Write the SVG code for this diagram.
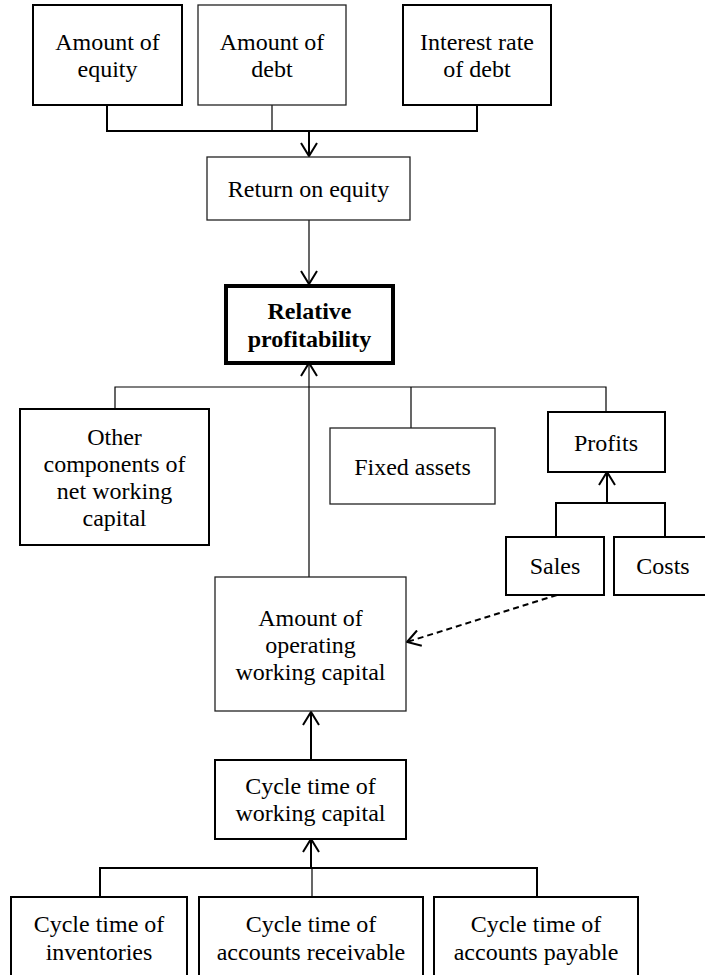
<svg xmlns="http://www.w3.org/2000/svg" width="705" height="975" viewBox="0 0 705 975">
<defs>
<style>
.box{fill:#fff;stroke:#000;stroke-width:2}
.thin{fill:#fff;stroke:#222;stroke-width:1.3}
.bold{fill:#fff;stroke:#000;stroke-width:4}
text{font-family:"Liberation Serif","Times New Roman",serif;font-size:24px;fill:#000;text-anchor:middle}
.b{font-weight:bold}
.ln{fill:none;stroke:#000;stroke-width:2}
.tl{fill:none;stroke:#000;stroke-width:1.2}
.dash{fill:none;stroke:#000;stroke-width:2;stroke-dasharray:6 4}
</style>
<marker id="arr" viewBox="0 0 16 18" refX="14" refY="9" markerWidth="16" markerHeight="18" markerUnits="userSpaceOnUse" orient="auto">
<path d="M1,1 L14,9 L1,17" fill="none" stroke="#000" stroke-width="2"/>
</marker>
</defs>
<g id="connectors">
<path class="ln" d="M107,105 V131 H477 V105"/>
<path class="tl" d="M272,105 V131"/>
<path class="ln" d="M309,131 V156" marker-end="url(#arr)"/>
<path class="tl" d="M309,220 V284" marker-end="url(#arr)"/>
<path class="tl" d="M115,409 V387 H606 V412"/>
<path class="tl" d="M411,387 V428"/>
<path class="tl" d="M309,577 V363" marker-end="url(#arr)"/>
<path class="ln" d="M556,537 V503 H665 V537"/>
<path class="ln" d="M607,503 V472" marker-end="url(#arr)"/>
<path class="dash" d="M557,595 L407,642" marker-end="url(#arr)"/>
<path class="ln" d="M311,760 V712" marker-end="url(#arr)"/>
<path class="ln" d="M100,897 V868 H537 V897"/>
<path class="tl" d="M312,897 V868"/>
<path class="ln" d="M311,868 V839" marker-end="url(#arr)"/>
</g>
<g id="amount-equity"><rect class="box" x="33" y="5" width="149" height="100"/><text x="107.5" y="50">Amount of</text><text x="107.5" y="77">equity</text></g>
<g id="amount-debt"><rect class="thin" x="198" y="5" width="148" height="100"/><text x="272" y="50">Amount of</text><text x="272" y="77">debt</text></g>
<g id="interest-rate"><rect class="box" x="403" y="5" width="148" height="100"/><text x="477" y="50">Interest rate</text><text x="477" y="77">of debt</text></g>
<g id="return-equity"><rect class="thin" x="207" y="157" width="203" height="63"/><text x="308.5" y="197">Return on equity</text></g>
<g id="relative-profitability"><rect class="bold" x="226" y="286" width="167" height="77"/><text class="b" x="309.5" y="319">Relative</text><text class="b" x="309.5" y="347">profitability</text></g>
<g id="other-components"><rect class="box" x="20" y="409" width="189" height="136"/><text x="114.5" y="445">Other</text><text x="114.5" y="472">components of</text><text x="114.5" y="499">net working</text><text x="114.5" y="526">capital</text></g>
<g id="fixed-assets"><rect class="thin" x="330" y="428" width="165" height="76"/><text x="412.5" y="475">Fixed assets</text></g>
<g id="profits"><rect class="box" x="548" y="412" width="117" height="60"/><text x="606" y="451">Profits</text></g>
<g id="sales"><rect class="box" x="506" y="537" width="98" height="58"/><text x="555" y="574">Sales</text></g>
<g id="costs"><rect class="box" x="614" y="537" width="100" height="58"/><text x="663" y="574">Costs</text></g>
<g id="amount-owc"><rect class="thin" x="215" y="577" width="191" height="134"/><text x="310.5" y="626">Amount of</text><text x="310.5" y="653">operating</text><text x="310.5" y="680">working capital</text></g>
<g id="cycle-wc"><rect class="box" x="215" y="760" width="191" height="79"/><text x="310.5" y="794">Cycle time of</text><text x="310.5" y="821">working capital</text></g>
<g id="cycle-inv"><rect class="box" x="11" y="897" width="176" height="90"/><text x="99" y="932">Cycle time of</text><text x="99" y="960">inventories</text></g>
<g id="cycle-ar"><rect class="box" x="199" y="897" width="224" height="90"/><text x="311" y="932">Cycle time of</text><text x="311" y="960">accounts receivable</text></g>
<g id="cycle-ap"><rect class="box" x="434" y="897" width="204" height="90"/><text x="536" y="932">Cycle time of</text><text x="536" y="960">accounts payable</text></g>
</svg>
